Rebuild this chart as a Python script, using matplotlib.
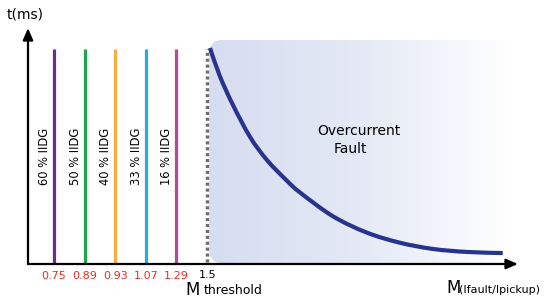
import numpy as np
import matplotlib
matplotlib.use("Agg")
from matplotlib import pyplot as plt
from matplotlib.patches import FancyBboxPatch, PathPatch
from matplotlib.path import Path
from matplotlib.transforms import IdentityTransform

# data
labels = ["60 % IIDG", "50 % IIDG", "40 % IIDG", "33 % IIDG", "16 % IIDG"]
tick_values = ["0.75", "0.89", "0.93", "1.07", "1.29"]
line_colors = ["#6b2d8f", "#1ea54c", "#f9ab3c", "#29abe2", "#b8479d"]
threshold_label = "1.5"
line_height = 1.0

# overcurrent curve (x in category slots, y relative)
curve_x = [6.10, 6.42, 6.85, 7.41, 7.96, 8.61, 9.04, 10.12, 11.23, 12.31,
           13.39, 14.50, 15.67]
curve_y = [1.005, 0.875, 0.740, 0.591, 0.484, 0.388, 0.333, 0.222, 0.146, 0.099,
           0.070, 0.056, 0.051]


def smooth_path(px, py):
    # Catmull-Rom through the read points, drawn as cubic Bezier segments
    pts = np.column_stack([px, py])
    verts = [pts[0]]
    codes = [Path.MOVETO]
    for i in range(len(pts) - 1):
        p0 = pts[i - 1] if i > 0 else pts[i]
        p1, p2 = pts[i], pts[i + 1]
        p3 = pts[i + 2] if i + 2 < len(pts) else pts[i + 1]
        verts += [p1 + (p2 - p0) / 6, p2 - (p3 - p1) / 6, p2]
        codes += [Path.CURVE4] * 3
    return Path(verts, codes)


fig = plt.figure(figsize=(5.5, 3.03), dpi=100)
ax = fig.add_axes([28 / 550, 39 / 303, 490 / 550, 236 / 303])
ax.set_xlim(0.15, 16.17)
ax.set_ylim(0, 1.098)
ax.axis("off")

xs = np.arange(1, len(labels) + 1)
threshold_x = len(labels) + 1

# shaded overcurrent region with a horizontal fade
fig.canvas.draw()
x0, y0 = ax.transData.transform((threshold_x + 0.08, 0.004))
x1, y1 = ax.transData.transform((15.95, 1.042))
grad = np.linspace(0, 1, 256).reshape(1, -1)
cmap = matplotlib.colors.LinearSegmentedColormap.from_list(
    "fade", ["#d6ddf0", "#e4e9f5", "#ffffff"])
img = ax.imshow(grad, extent=(threshold_x + 0.08, 15.95, 0.004, 1.042),
                aspect="auto", cmap=cmap, zorder=0, interpolation="bicubic")
clip = FancyBboxPatch((x0, y0), x1 - x0 + 20, y1 - y0,
                      boxstyle="round,pad=0,rounding_size=13",
                      transform=IdentityTransform(), facecolor="none", edgecolor="none")
fig.add_artist(clip)
img.set_clip_path(clip)
ax.set_xlim(0.15, 16.17)
ax.set_ylim(0, 1.098)

# vertical IIDG lines
for x, lab, tv, c in zip(xs, labels, tick_values, line_colors):
    ax.plot([x, x], [0, line_height], color=c, lw=2.3, solid_capstyle="butt", zorder=3)
    ax.text(x - 0.31, 0.50, lab, rotation=90, ha="center", va="center",
            fontsize=8.3, color="black")
    ax.text(x, -0.058, tv, ha="center", va="center", fontsize=8,
            color="#ec2b24", clip_on=False)

# threshold dotted line
ax.plot([threshold_x, threshold_x], [0.01, line_height], color="#6e6e6e", lw=2.5,
        linestyle=(0, (0.9, 0.8)), dash_capstyle="butt", zorder=3)
ax.text(threshold_x + 0.02, -0.05, threshold_label, ha="center", va="center",
        fontsize=8, clip_on=False)
ax.text(threshold_x - 0.48, -0.12, "M", ha="center", va="center", fontsize=12,
        clip_on=False)
ax.text(threshold_x - 0.1, -0.125, "threshold", ha="left", va="center", fontsize=9,
        clip_on=False)

# overcurrent curve
ax.add_patch(PathPatch(smooth_path(curve_x, curve_y), facecolor="none",
                       edgecolor="#27338c", lw=3, capstyle="butt", zorder=4))
ax.text(9.6, 0.62, "Overcurrent", ha="left", va="center", fontsize=10)
ax.text(10.15, 0.535, "Fault", ha="left", va="center", fontsize=10)

# axes arrows
ax.annotate("", xy=(1.0, 0), xytext=(0, 0), xycoords="axes fraction",
            arrowprops=dict(arrowstyle="-|>,head_length=0.7,head_width=0.3",
                            color="black", lw=1.6, shrinkA=0, shrinkB=0))
ax.annotate("", xy=(0, 1.0), xytext=(0, 0), xycoords="axes fraction",
            arrowprops=dict(arrowstyle="-|>,head_length=0.7,head_width=0.3",
                            color="black", lw=1.6, shrinkA=0, shrinkB=0))

fig.text(7 / 550, 1 - 15 / 303, "t(ms)", ha="left", va="center", fontsize=10)
fig.text(446 / 550, 1 - 293 / 303, "M", ha="left", va="baseline", fontsize=12)
fig.text(459 / 550, 1 - 293 / 303, "(Ifault/Ipickup)", ha="left", va="baseline",
         fontsize=8)

fig.savefig("out.png", dpi=100)
